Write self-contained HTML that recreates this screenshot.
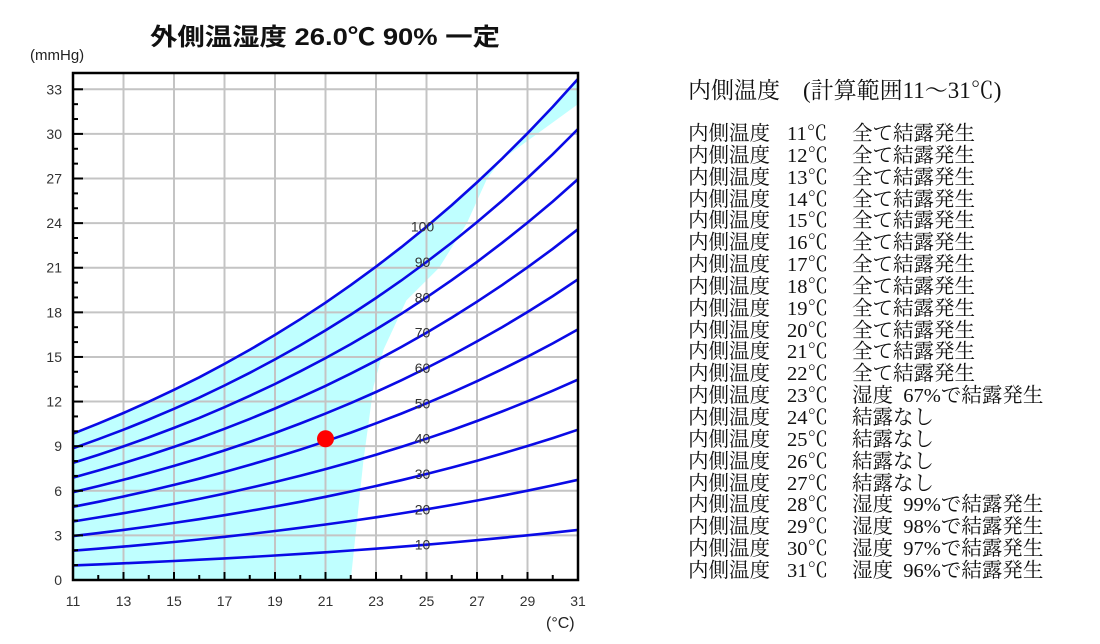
<!DOCTYPE html>
<html><head><meta charset="utf-8">
<style>
html,body{margin:0;padding:0;background:#fff;}
body{width:1100px;height:644px;overflow:hidden;position:relative;}
#side{position:absolute;left:688px;top:76px;font-family:"Liberation Serif","Noto Serif CJK JP","Noto Serif CJK SC",serif;color:#111;}
#side .ttl{font-size:23px;height:48px;line-height:30px;white-space:pre;}
#side .row{font-size:20.5px;line-height:21.85px;white-space:pre;height:21.85px;position:relative;width:400px;}
#side .row span{position:absolute;top:0;}
</style></head><body>
<svg id="chart" width="640" height="644" style="position:absolute;left:0;top:0;font-family:'Liberation Sans','Noto Sans CJK JP',sans-serif;">
<text x="150" y="45" textLength="350" lengthAdjust="spacingAndGlyphs" font-size="24" font-weight="bold" fill="#111">外側温湿度  26.0℃ 90% 一定</text>
<text x="30" y="60" font-size="15" fill="#222">(mmHg)</text>
<text x="546" y="628" font-size="16" fill="#222">(°C)</text>
<g id="g"></g>
</svg>
<div id="side"></div>
<script>
const temps=[11,12,13,14,15,16,17,18,19,20,21,22,23,24,25,26,27,28,29,30,31];
const satP=[9.84,10.52,11.23,11.99,12.79,13.63,14.53,15.48,16.48,17.54,18.65,19.83,21.07,22.38,23.76,25.21,26.74,28.35,30.04,31.82,33.70];
const humidityLevels=[100,90,80,70,60,50,40,30,20,10];
const xTicks=[11,13,15,17,19,21,23,25,27,29,31];
const yTicks=[0,3,6,9,12,15,18,21,24,27,30,33];
const regionBoundary=[[31,32.0],[28.0,28.3],[27.4,27],[26.6,24],[25.5,21],[24.2,18.8],[23.3,15.5],[22.9,13],[22.5,8],[22.0,0],[11,0]];
const point=[21,9.5];
const resultTemps=[11,12,13,14,15,16,17,18,19,20,21,22,23,24,25,26,27,28,29,30,31];
const resultText=["全て結露発生","全て結露発生","全て結露発生","全て結露発生","全て結露発生","全て結露発生","全て結露発生","全て結露発生","全て結露発生","全て結露発生","全て結露発生","全て結露発生","湿度  67%で結露発生","結露なし","結露なし","結露なし","結露なし","湿度  99%で結露発生","湿度  98%で結露発生","湿度  97%で結露発生","湿度  96%で結露発生"];

const X0=73,X1=578,Y0=580,PY=14.87;
const sx=t=>X0+(t-11)*(X1-X0)/20;
const sy=v=>Y0-v*PY;
const NS="http://www.w3.org/2000/svg";
const g=document.getElementById('g');
function mk(tag,attrs){const e=document.createElementNS(NS,tag);for(const k in attrs)e.setAttribute(k,attrs[k]);g.appendChild(e);return e;}

let pts=temps.map((t,i)=>sx(t)+','+sy(satP[i]));
regionBoundary.forEach(p=>pts.push(sx(p[0])+','+sy(p[1])));
const reg=mk('polygon',{points:pts.join(' '),fill:'#bfffff'});



for(let t=13;t<31;t+=2){const l=mk('line',{x1:sx(t),x2:sx(t),y1:73,y2:Y0,stroke:'#c4c4c4','stroke-width':2});

}
for(let v=3;v<=33;v+=3){const l=mk('line',{x1:X0,x2:X1,y1:sy(v),y2:sy(v),stroke:'#c4c4c4','stroke-width':2});

}

humidityLevels.forEach(h=>{
  const d=temps.map((t,i)=>(i?'L':'M')+sx(t).toFixed(1)+','+sy(satP[i]*h/100).toFixed(1)).join(' ');
  const p=mk('path',{d:d,fill:'none',stroke:'#0a0ae6','stroke-width':2.6});
  
  
  const i25=temps.indexOf(25);
  const tx=mk('text',{x:sx(25)-4,y:sy(satP[i25]*h/100)+5,'text-anchor':'middle','font-size':14,fill:'#333'});
  tx.textContent=h;
  
  
});

const fr=mk('rect',{x:X0,y:73,width:X1-X0,height:Y0-73,fill:'none',stroke:'#000','stroke-width':2.5});



for(let t=11;t<=31;t++){const l=mk('line',{x1:sx(t),x2:sx(t),y1:Y0,y2:Y0-(t%2?8:5),stroke:'#000','stroke-width':2});

}
for(let v=0;v<=33;v++){const l=mk('line',{x1:X0,x2:X0+(v%3?5:10),y1:sy(v),y2:sy(v),stroke:'#000','stroke-width':2});

}
xTicks.forEach(t=>{const e=mk('text',{x:sx(t),y:606,'text-anchor':'middle','font-size':14,fill:'#333'});e.textContent=t;

});
yTicks.forEach(v=>{const e=mk('text',{x:62,y:sy(v)+5,'text-anchor':'end','font-size':14,fill:'#333'});e.textContent=v;

});

const c=mk('circle',{cx:sx(point[0]),cy:sy(point[1]),r:8.5,fill:'#ff0000'});



const side=document.getElementById('side');
const tt=document.createElement('div');tt.className='ttl';tt.textContent='内側温度　(計算範囲11～31℃)';


side.appendChild(tt);
resultTemps.forEach((t,i)=>{const r=document.createElement('div');r.className='row';


const a=document.createElement('span');a.style.left='0px';a.textContent='内側温度';
const b=document.createElement('span');b.style.left='99px';b.textContent=t+'℃';
const d=document.createElement('span');d.style.left='164px';d.textContent=resultText[i];
r.appendChild(a);r.appendChild(b);r.appendChild(d);
side.appendChild(r);});
</script>
</body></html>
